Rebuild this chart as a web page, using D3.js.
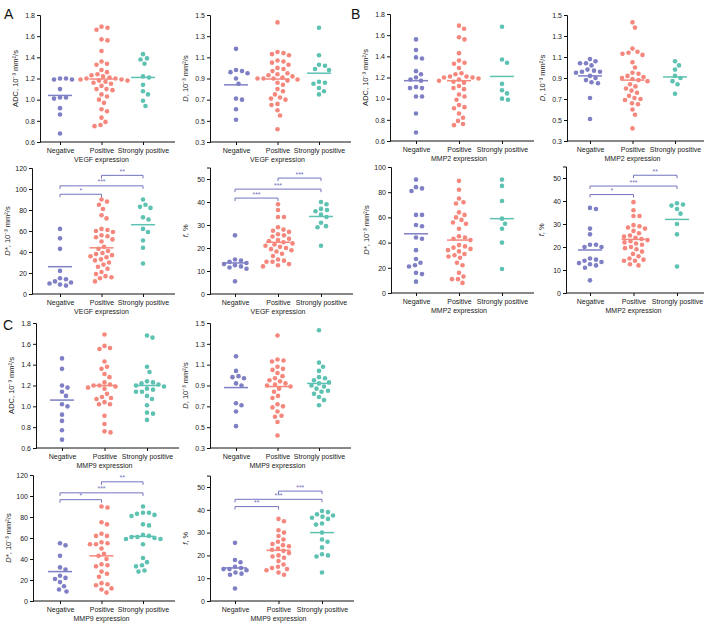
<!DOCTYPE html>
<html><head><meta charset="utf-8">
<script src="https://cdn.jsdelivr.net/npm/d3@7"></script>
<style>
body{margin:0;background:#fff;}
svg text{font-family:"Liberation Sans",Arial,sans-serif;}
</style></head>
<body><svg id="c" width="704" height="625"></svg>
<script>
const cats = ["Negative","Positive","Strongly positive"];
const colors = ["#7f7fc6","#f5877d","#5ec2b2"];
const sigColor = "#7373c0";

// ---- VEGF (A)
const vegfADC = [
 [1.20,1.20,1.19,1.19,1.10,1.02,1.02,1.01,0.92,0.86,0.68],
 [1.69,1.68,1.66,1.57,1.56,1.46,1.36,1.34,1.33,1.28,1.26,1.24,1.23,1.22,1.21,1.20,1.20,1.19,1.19,1.18,1.18,1.17,1.16,1.15,1.13,1.10,1.10,1.09,1.05,1.03,1.00,0.97,0.91,0.89,0.83,0.79,0.76,0.75],
 [1.43,1.39,1.38,1.34,1.22,1.21,1.14,1.08,1.05,0.99,0.94]];
const vegfADCMean = [1.04,1.195,1.21];
const vegfD = [
 [1.18,0.98,0.97,0.96,0.95,0.90,0.85,0.71,0.70,0.61,0.51],
 [1.43,1.15,1.14,1.13,1.12,1.07,1.06,1.05,1.03,1.00,0.99,0.97,0.95,0.94,0.93,0.92,0.91,0.90,0.90,0.90,0.89,0.88,0.86,0.84,0.80,0.78,0.75,0.72,0.71,0.70,0.66,0.65,0.60,0.55,0.42],
 [1.38,1.12,1.03,1.02,0.99,0.98,0.87,0.86,0.85,0.81,0.78,0.75]];
const vegfDMean = [0.84,0.895,0.95];
const vegfDstar = [
 [62,53,43,22,15,14,12,11,10,9,8],
 [90,88,85,81,75,72,62,61,60,59,56,55,54,52,50,45,43,41,39,38,37,36,35,33,32,30,28,26,24,21,19,17,16,15,12],
 [90,85,83,82,73,71,62,59,51,44,29]];
const vegfDstarMean = [26,44,66];
const vegfDstarSig = [[0,1,"*"],[0,2,"***"],[1,2,"**"]];
const vegfF = [
 [25.5,15,14.5,14,13.5,13,12.5,12,11.5,11,5.5],
 [39,36.5,33.5,33.5,29,28,27.5,27,26,25.5,25,24,23.5,23,22.5,22,21.5,21,20.5,20,19.5,19,18.5,17.5,16.5,15,14.5,14,14,13,12.5,12],
 [40,39,37,36.5,36,34.5,33.5,31,29.5,29,21]];
const vegfFMean = [13.5,22.5,33.7];
const vegfFSig = [[0,1,"***"],[0,2,"***"],[1,2,"***"]];

// ---- MMP2 (B)
const mmp2ADC = [
 [1.56,1.46,1.39,1.38,1.26,1.23,1.20,1.18,1.17,1.11,1.10,1.10,1.02,1.02,0.86,0.68],
 [1.69,1.66,1.58,1.56,1.43,1.36,1.34,1.33,1.29,1.24,1.23,1.21,1.21,1.20,1.20,1.19,1.18,1.17,1.16,1.15,1.12,1.10,1.09,1.04,1.02,0.99,0.94,0.92,0.91,0.86,0.82,0.79,0.76,0.75],
 [1.68,1.37,1.34,1.14,1.08,1.05,1.00,0.99]];
const mmp2ADCMean = [1.17,1.17,1.21];
const mmp2D = [
 [1.08,1.06,1.04,1.04,1.02,0.98,0.97,0.96,0.96,0.95,0.92,0.90,0.88,0.86,0.85,0.71,0.51],
 [1.43,1.38,1.18,1.15,1.14,1.13,1.12,1.05,1.00,0.95,0.94,0.92,0.91,0.90,0.89,0.88,0.87,0.84,0.82,0.80,0.78,0.76,0.73,0.71,0.70,0.69,0.66,0.65,0.60,0.55,0.42],
 [1.06,1.02,0.98,0.92,0.90,0.87,0.84,0.75]];
const mmp2DMean = [0.92,0.88,0.91];
const mmp2Dstar = [
 [90,84,83,81,62,62,54,53,44,43,34,27,24,22,21,16,15,9],
 [89,82,75,72,71,64,62,60,58,56,55,51,45,44,43,42,38,37,36,35,34,33,31,30,29,28,24,22,16,13,11,11,8],
 [90,85,73,59,55,51,40,19]];
const mmp2DstarMean = [47,42,59];
const mmp2F = [
 [37,36.5,28,25.5,21,21,20,20,15,14.5,14,13.5,13,12.5,12,11,5.5],
 [39.5,36,33.5,33.5,29.5,29,28.5,28,27,26,25,24.5,24,23.5,23,22.5,22,21.5,21,20,19.5,19,18,17,16,15,14.5,14,14,12.5,12],
 [39,38.5,38,36.5,34.5,30,25.5,11.5]];
const mmp2FMean = [18.7,23.3,32];
const mmp2FSig = [[0,1,"*"],[0,2,"***"],[1,2,"**"]];

// ---- MMP9 (C)
const mmp9ADC = [
 [1.46,1.36,1.20,1.18,1.14,1.10,1.02,1.00,0.92,0.86,0.77,0.68],
 [1.69,1.58,1.56,1.55,1.43,1.38,1.36,1.31,1.28,1.23,1.21,1.20,1.20,1.19,1.18,1.17,1.12,1.09,1.08,1.07,1.04,1.02,1.02,0.91,0.83,0.76,0.75],
 [1.68,1.66,1.38,1.33,1.24,1.23,1.22,1.21,1.20,1.19,1.17,1.16,1.14,1.14,1.10,1.07,1.01,0.94,0.93,0.87]];
const mmp9ADCMean = [1.06,1.20,1.20];
const mmp9D = [
 [1.18,1.04,0.99,0.98,0.97,0.92,0.90,0.73,0.71,0.65,0.51],
 [1.38,1.15,1.14,1.13,1.08,1.06,1.05,1.02,0.99,0.97,0.95,0.94,0.92,0.91,0.90,0.89,0.87,0.84,0.80,0.78,0.72,0.70,0.69,0.65,0.61,0.60,0.55,0.42],
 [1.43,1.12,1.08,1.04,0.98,0.97,0.95,0.93,0.92,0.90,0.89,0.87,0.85,0.84,0.82,0.79,0.76,0.71]];
const mmp9DMean = [0.88,0.89,0.92];
const mmp9Dstar = [
 [55,53,43,32,30,24,22,21,18,14,11,9],
 [90,89,75,73,64,62,62,56,55,54,54,50,45,43,40,35,34,33,28,26,23,17,16,15,12,11,8],
 [90,84,84,83,82,81,73,72,63,62,61,61,60,59,59,54,41,37,34,33,29,28]];
const mmp9DstarMean = [28,43,61.5];
const mmp9DstarSig = [[0,1,"*"],[0,2,"***"],[1,2,"**"]];
const mmp9F = [
 [25.5,18,17,15,14.5,14,14,13.5,12.5,12,11.5,5.5],
 [36,35,31,30,28.5,27,26,25,24.5,24,23,22.5,22,21,20,19.5,19,17.5,16,15,14.5,14,13.5,12.5,11.5],
 [39.5,39,38,37.5,37,36.5,36,34,33.5,30,27,26,23.5,20.5,20,19.5,12.5]];
const mmp9FMean = [14.5,22.2,30];
const mmp9FSig = [[0,1,"**"],[0,2,"***"],[1,2,"***"]];

// tick sets
const ticksADC = [0.6,0.8,1.0,1.2,1.4,1.6,1.8];
const ticksD = [0.3,0.5,0.7,0.9,1.1,1.3,1.5];
const ticksDstar120 = [0,20,40,60,80,100,120];
const ticksDstar100 = [0,20,40,60,80,100];
const ticksF = [0,10,20,30,40,50];

// ---- layout
const L = {
 ADC:{kind:"ADC",dom:[0.6,1.8],ticks:ticksADC,fmt:d3.format(".1f")},
 D:{kind:"D",dom:[0.3,1.5],ticks:ticksD,fmt:d3.format(".1f")},
 Ds120:{kind:"Dstar",dom:[0,120],ticks:ticksDstar120,fmt:d3.format("d")},
 Ds100:{kind:"Dstar",dom:[0,100],ticks:ticksDstar100,fmt:d3.format("d")},
 F:{kind:"f",dom:[0,55],ticks:ticksF,fmt:d3.format("d")}
};
const panels = [
 {t:L.ADC,data:vegfADC,mean:vegfADCMean,xt:"VEGF expression",ax:40,top:15,bot:142,c0:60,step:41.5},
 {t:L.D,data:vegfD,mean:vegfDMean,xt:"VEGF expression",ax:210,top:15,bot:142,c0:236,step:41.5},
 {t:L.ADC,data:mmp2ADC,mean:mmp2ADCMean,xt:"MMP2 expression",ax:390,top:14,bot:141,c0:416,step:43},
 {t:L.D,data:mmp2D,mean:mmp2DMean,xt:"MMP2 expression",ax:567,top:15,bot:141,c0:590,step:42.5},
 {t:L.Ds120,data:vegfDstar,mean:vegfDstarMean,sig:vegfDstarSig,lv:[95,103,113],xt:"VEGF expression",ax:32,top:168,bot:294,c0:60,step:41.5},
 {t:L.F,data:vegfF,mean:vegfFMean,sig:vegfFSig,lv:[41.7,45.6,50.4],xt:"VEGF expression",ax:210,top:167.5,bot:294,c0:235,step:43},
 {t:L.Ds100,data:mmp2Dstar,mean:mmp2DstarMean,xt:"MMP2 expression",ax:391,top:167,bot:293,c0:416,step:43},
 {t:L.F,data:mmp2F,mean:mmp2FMean,sig:mmp2FSig,lv:[42.8,46.5,51.2],xt:"MMP2 expression",ax:566,top:166.5,bot:293,c0:590,step:43.5},
 {t:L.ADC,data:mmp9ADC,mean:mmp9ADCMean,xt:"MMP9 expression",ax:36,top:323,bot:448,c0:62,step:42.5},
 {t:L.D,data:mmp9D,mean:mmp9DMean,xt:"MMP9 expression",ax:210,top:323,bot:448,c0:236,step:41.5},
 {t:L.Ds120,data:mmp9Dstar,mean:mmp9DstarMean,sig:mmp9DstarSig,lv:[96.5,103,113.5],xt:"MMP9 expression",ax:33,top:475,bot:601,c0:60,step:41.5},
 {t:L.F,data:mmp9F,mean:mmp9FMean,sig:mmp9FSig,lv:[41.4,44.6,48.2],xt:"MMP9 expression",ax:210,top:475.6,bot:601,c0:235,step:43.5}
];

const svg = d3.select("#c");
const R = 2.3;

function swarm(vals, y, cx){
  const pts = vals.map(v=>({v,y:y(v)})).sort((a,b)=>a.y-b.y);
  const placed=[]; const d=2*R+1.1;
  for(const p of pts){
    let chosen=cx;
    for(let k=0;k<80;k++){
      const cands = k===0?[0]:[k*0.5,-k*0.5];
      let ok=null;
      for(const o of cands){
        const x=cx+o;
        if(placed.every(q=>Math.hypot(q.x-x,q.y-p.y)>=d)){ok=x;break;}
      }
      if(ok!==null){chosen=ok;break;}
    }
    p.x=chosen; placed.push(p);
  }
  return placed;
}

function ylabel(g,kind,x,y){
  const t=g.append("text").attr("transform",`translate(${x},${y}) rotate(-90)`)
    .attr("text-anchor","middle").attr("font-size",7.5).attr("fill","#222");
  if(kind==="ADC"){t.text("ADC, 10⁻³ mm²/s");}
  else if(kind==="D"){t.append("tspan").attr("font-style","italic").text("D");t.append("tspan").text(", 10⁻³ mm²/s");}
  else if(kind==="Dstar"){t.append("tspan").attr("font-style","italic").text("D*");t.append("tspan").text(", 10⁻³ mm²/s");}
  else {t.append("tspan").attr("font-style","italic").text("f");t.append("tspan").text(", %");}
}

panels.forEach(P=>{
  const g=svg.append("g");
  const y=d3.scaleLinear().domain(P.t.dom).range([P.bot,P.top]);
  const x=d3.scalePoint().domain(cats).range([P.c0,P.c0+2*P.step]);
  const right=P.c0+2*P.step+32;
  const ya=g.append("g").attr("transform",`translate(${P.ax},0)`)
    .call(d3.axisLeft(y).tickValues(P.t.ticks).tickSize(3).tickPadding(2).tickFormat(P.t.fmt));
  ya.selectAll("text").attr("font-size",7).attr("fill","#222").attr("font-family","Liberation Sans, Arial, sans-serif");
  ya.selectAll("line,path").attr("stroke","#111");
  const xa=g.append("g").attr("transform",`translate(0,${P.bot})`)
    .call(d3.axisBottom(x).tickSize(3).tickPadding(3));
  xa.select(".domain").remove();
  xa.selectAll("text").attr("font-size",7).attr("fill","#222").attr("font-family","Liberation Sans, Arial, sans-serif");
  xa.selectAll("line").attr("stroke","#111");
  g.append("line").attr("x1",P.ax).attr("x2",right).attr("y1",P.bot).attr("y2",P.bot).attr("stroke","#111");
  g.append("text").attr("x",x(cats[1])).attr("y",P.bot+20).attr("text-anchor","middle")
    .attr("font-size",7).attr("fill","#222").text(P.xt);
  ylabel(g,P.t.kind,P.ax-22,(P.top+P.bot)/2);
  P.data.forEach((vals,i)=>{
    const pts=swarm(vals,y,x(cats[i]));
    g.selectAll(null).data(pts).join("circle").attr("cx",d=>d.x).attr("cy",d=>d.y).attr("r",R).attr("fill",colors[i]);
    const m=y(P.mean[i]);
    g.append("line").attr("x1",x(cats[i])-12).attr("x2",x(cats[i])+12).attr("y1",m).attr("y2",m)
      .attr("stroke",colors[i]).attr("stroke-width",1.5);
  });
  if(P.sig){
    P.sig.forEach((s,k)=>{
      const yy=y(P.lv[k]); const x1=x(cats[s[0]]), x2=x(cats[s[1]]);
      g.append("path").attr("d",`M${x1},${yy+3}V${yy}H${x2}V${yy+3}`).attr("fill","none")
        .attr("stroke",sigColor).attr("stroke-width",1);
      g.append("text").attr("x",(x1+x2)/2).attr("y",yy-1.5).attr("text-anchor","middle")
        .attr("font-size",7).attr("fill",sigColor).text(s[2]);
    });
  }
});
[["A",4,19],["B",351,19],["C",3,330]].forEach(([t,xx,yy])=>{
  svg.append("text").attr("x",xx).attr("y",yy).attr("font-size",14).attr("fill","#111").text(t);
});
</script></body></html>
